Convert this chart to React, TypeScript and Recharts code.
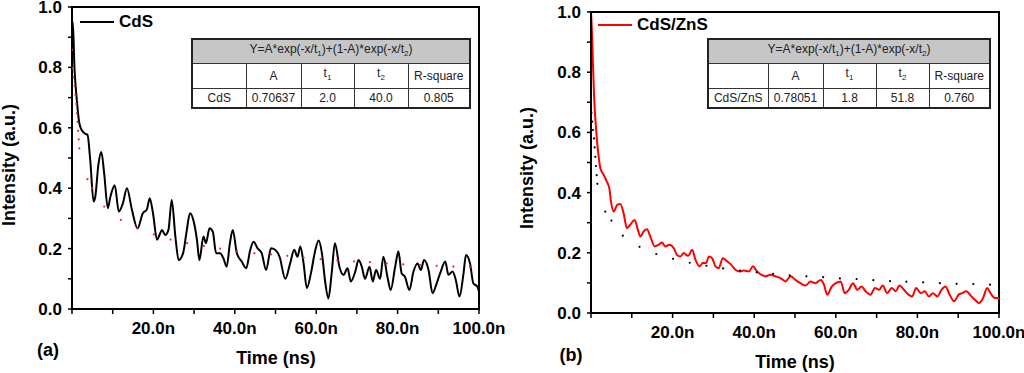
import { Line, LineChart, ReferenceArea, XAxis, YAxis } from "recharts"

const font = '"Liberation Sans", Arial, sans-serif'

// time axis (ns) and ticks
const xTicks = [0, 10, 20, 30, 40, 50, 60, 70, 80, 90, 100]
const xMajor = [20, 40, 60, 80, 100]
const xLabels = ["20.0n", "40.0n", "60.0n", "80.0n", "100.0n"]
const yTicks = [0, 0.1, 0.2, 0.3, 0.4, 0.5, 0.6, 0.7, 0.8, 0.9, 1.0]

// (a) CdS decay
const cdsT = [0, 0.2, 0.6, 1.2, 1.8, 2.5, 3.3, 3.8, 4.5, 5.3, 5.7, 6.5, 7.2, 7.9, 8.8, 9.4, 10.5, 11.5, 12.5, 13.5, 14.7, 16.1, 17.4, 18.4, 19.1, 19.9, 20.9, 21.5, 22.1, 22.9, 23.7, 24.5, 25.4, 26.2, 27.3, 28.1, 29.0, 29.9, 30.7, 31.3, 32.3, 32.9, 33.8, 34.6, 35.4, 36.4, 37.2, 38.0, 38.8, 39.5, 40.5, 41.7, 42.8, 43.8, 44.6, 45.6, 46.6, 47.7, 48.9, 49.9, 51.0, 52.4, 53.6, 54.6, 55.4, 56.1, 56.9, 57.7, 58.7, 59.7, 60.6, 61.4, 62.2, 63.0, 63.8, 64.6, 65.7, 66.7, 67.7, 68.5, 69.6, 70.4, 71.2, 72.0, 73.1, 73.9, 74.7, 75.7, 76.5, 77.5, 78.3, 79.4, 80.2, 81.0, 81.8, 82.9, 83.9, 84.9, 85.7, 86.5, 87.6, 88.6, 89.6, 90.6, 91.7, 92.5, 93.5, 94.3, 95.2, 96.2, 96.8, 97.8, 98.6, 99.6, 100]
const cdsI = [0.9, 0.95, 0.8, 0.69, 0.615, 0.59, 0.58, 0.577, 0.49, 0.356, 0.37, 0.48, 0.52, 0.45, 0.334, 0.37, 0.41, 0.323, 0.35, 0.4, 0.33, 0.267, 0.317, 0.33, 0.367, 0.317, 0.229, 0.245, 0.262, 0.245, 0.262, 0.361, 0.24, 0.162, 0.185, 0.251, 0.317, 0.29, 0.229, 0.162, 0.24, 0.218, 0.267, 0.256, 0.185, 0.185, 0.168, 0.14, 0.218, 0.262, 0.185, 0.157, 0.135, 0.196, 0.223, 0.201, 0.185, 0.129, 0.201, 0.196, 0.173, 0.1, 0.151, 0.196, 0.173, 0.207, 0.151, 0.069, 0.118, 0.19, 0.227, 0.185, 0.091, 0.035, 0.118, 0.218, 0.14, 0.113, 0.135, 0.091, 0.124, 0.162, 0.14, 0.1, 0.14, 0.091, 0.129, 0.1, 0.173, 0.107, 0.063, 0.14, 0.19, 0.118, 0.107, 0.063, 0.124, 0.151, 0.129, 0.162, 0.129, 0.052, 0.085, 0.124, 0.157, 0.113, 0.124, 0.096, 0.041, 0.118, 0.179, 0.151, 0.085, 0.074, 0.057]
const cdsFitT = [0, 0.15, 0.4, 0.65, 0.85, 1.05, 1.2, 1.35, 1.5, 1.65, 1.8, 3.8, 5.0, 7.9, 12.0, 16.0, 20.1, 24.2, 28.3, 32.4, 36.4, 40.5, 44.8, 48.9, 52.9, 56.9, 61.1, 65.2, 69.3, 73.2, 77.3, 81.4, 85.5, 89.6, 93.7, 97.8]
const cdsFitI = [0.858, 0.797, 0.767, 0.738, 0.709, 0.679, 0.648, 0.62, 0.59, 0.562, 0.532, 0.43, 0.4, 0.339, 0.295, 0.267, 0.247, 0.23, 0.218, 0.209, 0.2, 0.191, 0.185, 0.181, 0.176, 0.17, 0.165, 0.161, 0.158, 0.155, 0.151, 0.148, 0.145, 0.143, 0.14, 0.138]

// (b) CdS/ZnS decay
const znsT = [0, 0.25, 0.5, 0.8, 1.2, 1.7, 2.3, 3.1, 3.9, 4.5, 4.9, 5.6, 6.4, 7.2, 8.0, 8.8, 9.6, 10.7, 11.5, 12.1, 12.9, 13.7, 14.6, 15.6, 16.6, 17.4, 18.2, 19.2, 20.3, 21.1, 21.9, 22.7, 23.8, 24.8, 25.6, 26.6, 27.4, 28.2, 28.9, 29.7, 30.5, 31.3, 32.3, 33.4, 34.4, 35.4, 36.4, 37.4, 38.7, 39.7, 40.7, 41.8, 42.8, 44.0, 45.2, 46.4, 47.7, 48.9, 50.1, 51.3, 52.6, 53.8, 55.0, 56.3, 57.1, 57.9, 59.0, 60.0, 61.2, 62.2, 63.2, 64.2, 65.3, 66.3, 67.3, 68.5, 69.6, 70.6, 71.5, 72.6, 73.7, 74.7, 75.6, 76.7, 77.8, 78.7, 79.7, 80.8, 81.8, 82.8, 83.8, 84.9, 85.9, 86.9, 87.9, 89.0, 90.1, 91.0, 92.0, 93.1, 94.1, 95.1, 96.1, 97.1, 97.9, 99.0, 100]
const znsI = [1.0, 0.928, 0.818, 0.707, 0.619, 0.541, 0.481, 0.459, 0.436, 0.414, 0.37, 0.337, 0.359, 0.362, 0.331, 0.282, 0.293, 0.309, 0.276, 0.254, 0.271, 0.278, 0.252, 0.221, 0.227, 0.234, 0.221, 0.227, 0.215, 0.193, 0.188, 0.199, 0.19, 0.21, 0.177, 0.155, 0.166, 0.166, 0.188, 0.182, 0.155, 0.149, 0.182, 0.171, 0.16, 0.144, 0.138, 0.141, 0.138, 0.155, 0.138, 0.127, 0.122, 0.127, 0.122, 0.116, 0.105, 0.122, 0.11, 0.099, 0.091, 0.105, 0.099, 0.11, 0.094, 0.061, 0.088, 0.099, 0.105, 0.066, 0.077, 0.099, 0.077, 0.088, 0.072, 0.061, 0.083, 0.077, 0.091, 0.066, 0.083, 0.072, 0.091, 0.077, 0.061, 0.055, 0.083, 0.066, 0.072, 0.055, 0.066, 0.055, 0.077, 0.088, 0.061, 0.039, 0.061, 0.066, 0.072, 0.057, 0.044, 0.033, 0.05, 0.083, 0.066, 0.05, 0.05]
const znsFitT = [0.1, 0.3, 0.5, 0.75, 0.9, 1.05, 1.2, 1.4, 1.55, 3.5, 5.0, 7.8, 11.9, 16.0, 20.1, 24.2, 28.3, 32.4, 36.5, 40.6, 44.6, 48.7, 52.8, 56.9, 61.0, 65.1, 69.2, 73.3, 77.3, 81.4, 85.5, 89.6, 93.7, 97.8]
const znsFitI = [0.665, 0.636, 0.608, 0.58, 0.55, 0.519, 0.488, 0.458, 0.429, 0.337, 0.307, 0.257, 0.22, 0.196, 0.18, 0.167, 0.157, 0.148, 0.141, 0.135, 0.13, 0.125, 0.122, 0.119, 0.115, 0.113, 0.109, 0.106, 0.104, 0.102, 0.099, 0.097, 0.096, 0.094]

// fit table values
const fitHeader = ["A", "t1", "t2", "R-square"]
const cdsFit = ["CdS", "0.70637", "2.0", "40.0", "0.805"]
const znsFit = ["CdS/ZnS", "0.78051", "1.8", "51.8", "0.760"]

const zip = (t: number[], v: number[]) => t.map((x, i) => ({ t: x, v: v[i] }))

function YTick({ x, y, payload }: any) {
  const v = payload.value
  if (Math.round(v * 10) % 2 !== 0) return <g />
  return (
    <text x={x} y={y} dy="0.355em" textAnchor="end" fontSize={17} fontWeight="bold" fontFamily={font} fill="#000">
      {v.toFixed(1)}
    </text>
  )
}

function XTick({ x, y, payload }: any) {
  const idx = xMajor.indexOf(payload.value)
  if (idx < 0) return <g />
  return (
    <text x={x} y={y} dy="0.71em" textAnchor="middle" fontSize={17} fontWeight="bold" fontFamily={font} fill="#000">
      {xLabels[idx]}
    </text>
  )
}

function LegendBox({ name, color, left, top }: { name: string; color: string; left: number; top: number }) {
  return (
    <div
      style={{
        position: "absolute",
        left,
        top,
        display: "flex",
        alignItems: "center",
        fontFamily: font,
        fontWeight: "bold",
        fontSize: 17,
        lineHeight: "20px",
      }}
    >
      <span style={{ display: "inline-block", width: 34, height: 2, background: color, marginRight: 5 }} />
      <span>{name}</span>
    </div>
  )
}

function Sub({ t }: { t: string }) {
  if (t === "t1" || t === "t2")
    return (
      <>
        t<sub style={{ fontSize: 8 }}>{t[1]}</sub>
      </>
    )
  return <>{t}</>
}

function FitTable({ row, left, top, cols }: { row: string[]; left: number; top: number; cols: number[] }) {
  const cell: React.CSSProperties = {
    border: "1.5px solid #333",
    padding: 0,
    textAlign: "center",
    height: 18,
    lineHeight: "18px",
  }
  return (
    <table
      style={{
        position: "absolute",
        left,
        top,
        borderCollapse: "collapse",
        fontFamily: font,
        fontSize: 12,
        color: "#222",
        border: "2px solid #222",
        tableLayout: "fixed",
        background: "#fff",
      }}
    >
      <colgroup>
        {cols.map((w, i) => (
          <col key={i} style={{ width: w }} />
        ))}
      </colgroup>
      <tbody>
        <tr>
          <td colSpan={5} style={{ ...cell, background: "#c6c6c6", height: 19 }}>
            Y=A*exp(-x/t<sub style={{ fontSize: 8 }}>1</sub>)+(1-A)*exp(-x/t<sub style={{ fontSize: 8 }}>2</sub>)
          </td>
        </tr>
        <tr>
          <td style={cell} />
          {fitHeader.map((h) => (
            <td key={h} style={cell}>
              <Sub t={h} />
            </td>
          ))}
        </tr>
        <tr>
          {row.map((c, i) => (
            <td key={i} style={cell}>
              {c}
            </td>
          ))}
        </tr>
      </tbody>
    </table>
  )
}

function Panel({
  data,
  fit,
  color,
  fitColor,
  margin,
}: {
  data: { t: number; v: number }[]
  fit: { t: number; v: number }[]
  color: string
  fitColor: string
  margin: { top: number; right: number; bottom: number; left: number }
}) {
  return (
    <LineChart width={512} height={373} margin={margin}>
      <XAxis
        type="number"
        dataKey="t"
        domain={[0, 100]}
        ticks={xTicks}
        interval={0}
        tick={<XTick />}
        tickSize={5}
        tickMargin={8}
        height={40}
        axisLine={{ stroke: "#000", strokeWidth: 2 }}
        tickLine={{ stroke: "#000", strokeWidth: 1.5 }}
        allowDataOverflow
      />
      <YAxis
        type="number"
        domain={[0, 1]}
        ticks={yTicks}
        interval={0}
        tick={<YTick />}
        tickSize={4}
        tickMargin={6}
        width={60}
        axisLine={{ stroke: "#000", strokeWidth: 2 }}
        tickLine={{ stroke: "#000", strokeWidth: 1.5 }}
        allowDataOverflow
      />
      <ReferenceArea x1={0} x2={100} y1={0} y2={1} fill="none" stroke="#000" strokeWidth={2} />
      <Line
        data={data}
        dataKey="v"
        type="monotone"
        stroke={color}
        strokeWidth={2}
        dot={false}
        isAnimationActive={false}
      />
      <Line
        data={fit}
        dataKey="v"
        stroke="none"
        dot={{ r: 1.1, fill: fitColor, stroke: "none" }}
        isAnimationActive={false}
      />
    </LineChart>
  )
}

const label: React.CSSProperties = {
  position: "absolute",
  fontFamily: font,
  fontWeight: "bold",
  fontSize: 18,
  color: "#000",
  whiteSpace: "nowrap",
}

export default function App() {
  return (
    <div style={{ position: "absolute", left: 0, top: 0, width: 1024, height: 373, background: "#fff", overflow: "hidden" }}>
      <div style={{ position: "absolute", left: 0, top: 0 }}>
        <Panel
          data={zip(cdsT, cdsI)}
          fit={zip(cdsFitT, cdsFitI)}
          color="#000"
          fitColor="#ff2020"
          margin={{ top: 7, right: 33, bottom: 24, left: 12 }}
        />
      </div>
      <div style={{ position: "absolute", left: 512, top: 0 }}>
        <Panel
          data={zip(znsT, znsI)}
          fit={zip(znsFitT, znsFitI)}
          color="#ff0000"
          fitColor="#000"
          margin={{ top: 12, right: 25, bottom: 20, left: 19 }}
        />
      </div>
      <LegendBox name="CdS" color="#000" left={80} top={12} />
      <LegendBox name="CdS/ZnS" color="#ff0000" left={598} top={15} />
      <FitTable row={cdsFit} left={191} top={38} cols={[54, 55, 53, 54, 62]} />
      <FitTable row={znsFit} left={707} top={38} cols={[60, 55, 53, 53, 61]} />

      <div style={{ ...label, left: 276, top: 358, transform: "translate(-50%, -50%)" }}>Time (ns)</div>
      <div style={{ ...label, left: 795, top: 362, transform: "translate(-50%, -50%)" }}>Time (ns)</div>
      <div style={{ ...label, left: 9, top: 165, transform: "translate(-50%, -50%) rotate(-90deg)" }}>Intensity (a.u.)</div>
      <div style={{ ...label, left: 527, top: 168, transform: "translate(-50%, -50%) rotate(-90deg)" }}>Intensity (a.u.)</div>
      <div style={{ ...label, left: 48, top: 350, transform: "translate(-50%, -50%)" }}>(a)</div>
      <div style={{ ...label, left: 571, top: 355, transform: "translate(-50%, -50%)" }}>(b)</div>
    </div>
  )
}
